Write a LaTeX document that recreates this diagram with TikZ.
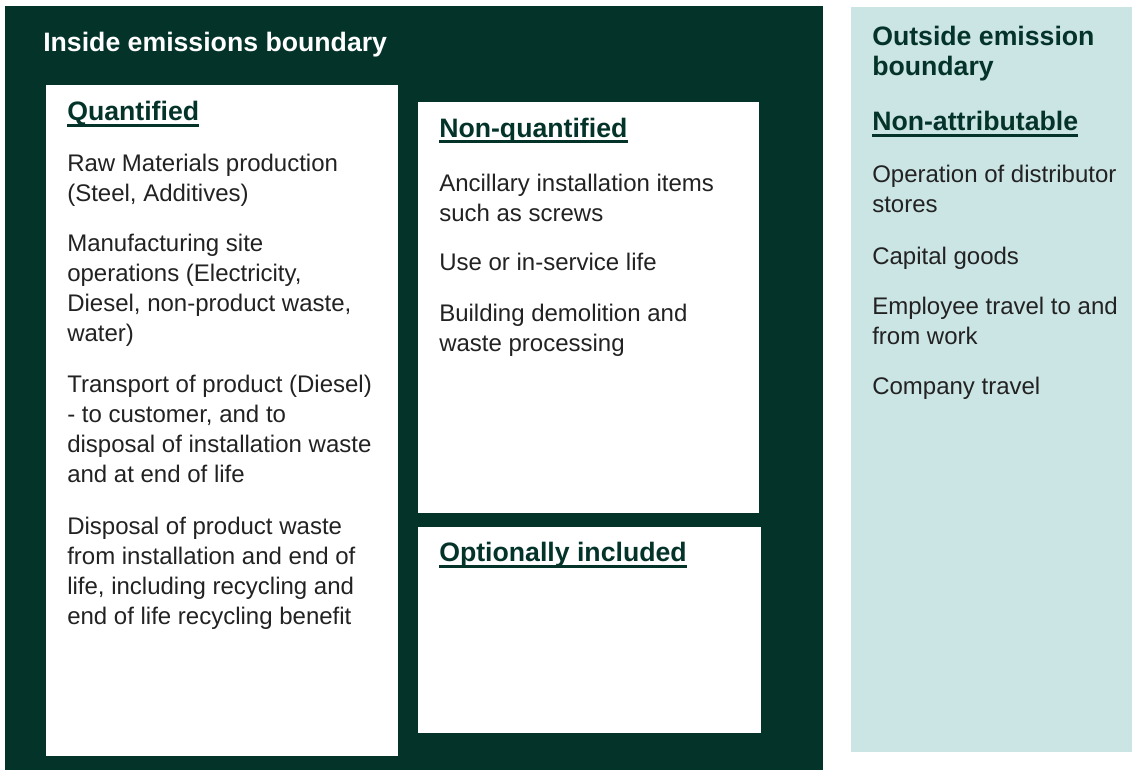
\documentclass[tikz,border=0pt]{standalone}
\usepackage{fontspec}
\setmainfont{Liberation Sans}
\definecolor{boundgreen}{HTML}{04332A}
\definecolor{outsideblue}{HTML}{CBE4E4}
\definecolor{bodygray}{HTML}{222222}
\tikzset{
  headtxt/.style={anchor=base west,inner sep=0pt,align=left,
    font=\fontsize{20}{22.5}\selectfont\bfseries,text=boundgreen},
  itemtxt/.style={anchor=base west,inner sep=0pt,align=left,
    font=\fontsize{18}{22.5}\selectfont,text=bodygray},
  uline/.style={boundgreen,line width=2pt},
}
\begin{document}
\begin{tikzpicture}[x=0.75pt,y=-0.75pt]
  \useasboundingbox (0,0) rectangle (1132,770);
  % panels
  \fill[boundgreen] (5,6) rectangle (823,770);
  \fill[white] (46,85) rectangle (398,756);
  \fill[white] (418,102) rectangle (759,513);
  \fill[white] (418,527) rectangle (761,733);
  \fill[outsideblue] (851,7) rectangle (1132,752);

  % multi-line texts sit on the baseline of their last line
  \node[headtxt,text=white] (inside) at (43,51.5) {Inside emissions boundary};

  % quantified
  \node[headtxt] (quant) at (67,120.7) {Quantified};
  \draw[uline] ([yshift=-3.4pt]quant.base west) -- ([yshift=-3.4pt]quant.base east);
  \node[itemtxt] (raw) at (67,201.7) {Raw Materials production\\(Steel, Additives)};
  \node[itemtxt] (manuf) at (67,341) {Manufacturing site\\operations (Electricity,\\Diesel, non-product waste,\\water)};
  \node[itemtxt] (transp) at (67,482.7) {Transport of product (Diesel)\\- to customer, and to\\disposal of installation waste\\and at end of life};
  \node[itemtxt] (dispo) at (67,624) {Disposal of product waste\\from installation and end of\\life, including recycling and\\end of life recycling benefit};

  % non-quantified
  \node[headtxt] (nonquant) at (439,137.3) {Non-quantified};
  \draw[uline] ([yshift=-3.4pt]nonquant.base west) -- ([yshift=-3.4pt]nonquant.base east);
  \node[itemtxt] (ancil) at (439,221.7) {Ancillary installation items\\such as screws};
  \node[itemtxt] (use) at (439,271) {Use or in-service life};
  \node[itemtxt] (demol) at (439,351) {Building demolition and\\waste processing};

  % optionally included
  \node[headtxt] (option) at (439,561.7) {Optionally included};
  \draw[uline] ([yshift=-3.4pt]option.base west) -- ([yshift=-3.4pt]option.base east);

  % outside
  \node[headtxt] (outside) at (872,76) {Outside emission\\boundary};
  \node[headtxt] (nonattr) at (872,131) {Non-attributable};
  \draw[uline] ([yshift=-3.4pt]nonattr.base west) -- ([yshift=-3.4pt]nonattr.base east);
  \node[itemtxt] (distr) at (872,213) {Operation of distributor\\stores};
  \node[itemtxt] (capital) at (872,264) {Capital goods};
  \node[itemtxt] (employ) at (872,344) {Employee travel to and\\from work};
  \node[itemtxt] (company) at (872,394) {Company travel};
\end{tikzpicture}
\end{document}
